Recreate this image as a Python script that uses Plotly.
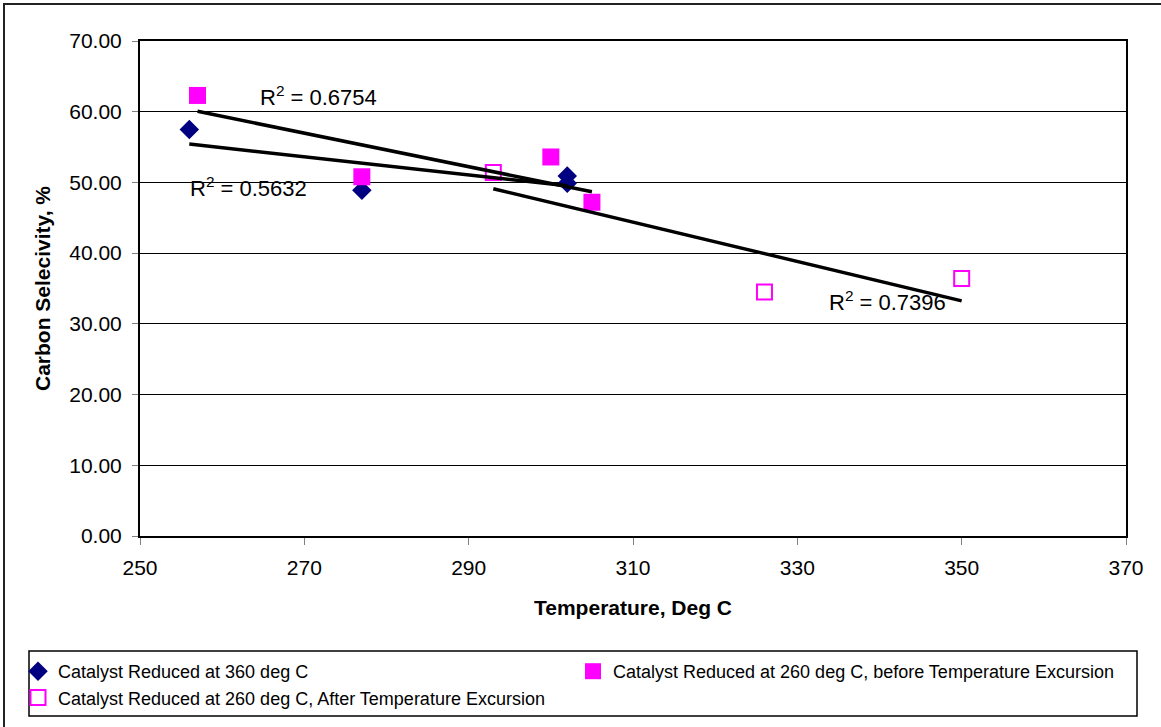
import numpy as np
import plotly.graph_objects as go

# Temperature (deg C) and carbon selectivity (%) for each catalyst run
temp_360 = [256, 277, 302, 302]
sel_360 = [57.5, 48.9, 50.9, 49.9]

temp_260_before = [257, 277, 300, 305]
sel_260_before = [62.3, 50.8, 53.6, 47.2]

temp_260_after = [293, 326, 350]
sel_260_after = [51.4, 34.5, 36.4]

# R-squared labels of the linear trendlines
r2_labels = ["0.5632", "0.6754", "0.7396"]
r2_pos_x = [255.8, 264.3, 333.6]
r2_pos_y = [49.3, 62.2, 33.2]

x_ticks = [250, 270, 290, 310, 330, 350, 370]
y_ticks = [0, 10, 20, 30, 40, 50, 60, 70]

FONT = "Arial, Liberation Sans, sans-serif"
W, H = 1161, 727
L, R, T, B = 140, 35, 41, 191
PW, PH = W - L - R, H - T - B


def px_x(px):
    return (px - L) / PW


def px_y(py):
    return (H - B - py) / PH


fig = go.Figure()

series = [
    ("Catalyst Reduced at 360 deg C", temp_360, sel_360,
     dict(symbol="diamond", size=15, color="#000080")),
    ("Catalyst Reduced at 260 deg C, before Temperature Excursion",
     temp_260_before, sel_260_before,
     dict(symbol="square", size=17, color="#FF00FF")),
    ("Catalyst Reduced at 260 deg C, After Temperature Excursion",
     temp_260_after, sel_260_after,
     dict(symbol="square-open", size=15, color="#FF00FF",
          line=dict(width=2, color="#FF00FF"))),
]

for name, xs, ys, marker in series:
    fig.add_trace(go.Scatter(x=xs, y=ys, mode="markers", name=name,
                             marker=marker, cliponaxis=False))

# Linear trendline for each series, spanning its own temperature range
for _, xs, ys, _ in series:
    xa = np.array(xs, dtype=float)
    ya = np.array(ys, dtype=float)
    slope, icpt = np.polyfit(xa, ya, 1)
    xl = np.array([xa.min(), xa.max()])
    fig.add_trace(go.Scatter(x=xl, y=slope * xl + icpt, mode="lines",
                             line=dict(color="black", width=3.5),
                             showlegend=False, hoverinfo="skip"))

for lab, ax, ay in zip(r2_labels, r2_pos_x, r2_pos_y):
    fig.add_annotation(x=ax, y=ay, text=f"R<sup>2</sup> = {lab}",
                       showarrow=False, xanchor="left", yanchor="middle",
                       font=dict(family=FONT, size=22, color="black"))

# Outer chart frame and legend frame
fig.add_shape(type="rect", xref="paper", yref="paper",
              x0=px_x(4), x1=px_x(1300), y0=px_y(900), y1=px_y(4),
              line=dict(color="#222", width=2), layer="below")
fig.add_shape(type="rect", xref="paper", yref="paper",
              x0=px_x(29), x1=px_x(1137), y0=px_y(716), y1=px_y(651),
              line=dict(color="black", width=1.5))

fig.update_xaxes(
    range=[250, 370], tickvals=x_ticks, ticktext=[str(v) for v in x_ticks],
    ticks="outside", ticklen=7, tickcolor="#808080", tickwidth=1,
    ticklabelstandoff=5,
    showgrid=False, zeroline=False,
    showline=True, linecolor="black", linewidth=2, mirror=True,
    tickfont=dict(family=FONT, size=21, color="black"),
    title=dict(text="<b>Temperature, Deg C</b>", standoff=22,
               font=dict(family=FONT, size=21, color="black")),
)
fig.update_yaxes(
    range=[0, 70], tickvals=y_ticks, tickformat=".2f",
    ticks="outside", ticklen=6, tickcolor="#808080", tickwidth=1,
    ticklabelstandoff=6,
    showgrid=True, gridcolor="#000000", gridwidth=1, zeroline=False,
    showline=True, linecolor="black", linewidth=2, mirror=True,
    tickfont=dict(family=FONT, size=21, color="black"),
    title=dict(text="<b>Carbon Selecivity, %</b>", standoff=13,
               font=dict(family=FONT, size=21, color="black")),
)

fig.update_layout(
    width=W, height=H,
    margin=dict(l=L, r=R, t=T, b=B, pad=0, autoexpand=False),
    paper_bgcolor="white", plot_bgcolor="white",
    font=dict(family=FONT, color="black"),
    showlegend=True,
    legend=dict(orientation="h", x=px_x(18), xanchor="left",
                y=px_y(653), yanchor="top",
                entrywidth=510, entrywidthmode="pixels",
                font=dict(family=FONT, size=18, color="black"),
                bgcolor="rgba(0,0,0,0)", borderwidth=0),
)

fig.write_html("out.html")
